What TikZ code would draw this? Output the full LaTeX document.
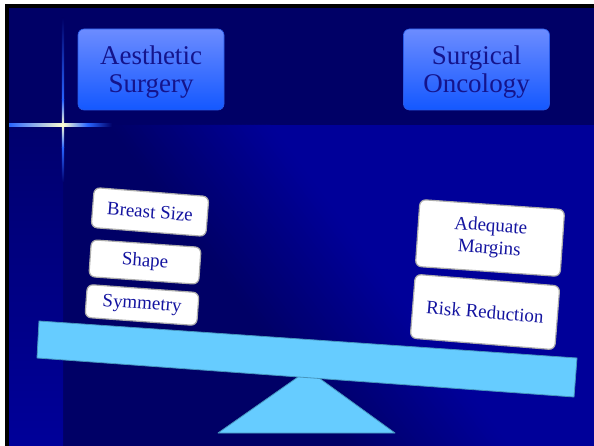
\documentclass[tikz,border=0pt]{standalone}
\usepackage{fontspec}
\setmainfont{Liberation Serif}
\definecolor{topband}{RGB}{0,0,102}
\definecolor{lowlight}{RGB}{0,0,153}
\definecolor{lowdark}{RGB}{0,0,102}
\definecolor{btntop}{RGB}{108,140,255}
\definecolor{btnbot}{RGB}{20,88,255}
\definecolor{btnedge}{RGB}{40,90,230}
\definecolor{btntext}{RGB}{20,20,140}
\definecolor{boxtext}{RGB}{20,20,160}
\definecolor{plank}{RGB}{102,204,255}
\definecolor{plankedge}{RGB}{70,150,190}
\definecolor{sparkblue}{RGB}{40,100,255}
\definecolor{sparkwhite}{RGB}{255,255,210}
\tikzset{
  topbtn/.style={rectangle, rounded corners=6pt, top color=btntop, bottom color=btnbot,
    draw=btnedge, line width=0.6pt, minimum width=146pt, minimum height=81pt, inner sep=0pt},
  btntxt/.style={align=center, text=btntext, inner sep=0pt, font=\fontsize{27}{28}\selectfont},
  itembox/.style={rectangle, rounded corners=6pt, fill=white, draw=gray!65, line width=1.2pt,
    align=center, text=boxtext, inner sep=0pt, font=\fontsize{19}{22}\selectfont},
  seesaw/.style={fill=plank, draw=plankedge, line width=0.8pt, line join=round}
}
\begin{document}
\begin{tikzpicture}[x=1pt,y=-1pt]
\useasboundingbox (0,0) rectangle (594,446);
% frame
\fill[white] (0,0) rectangle (594,446);
\fill[black] (5,4) rectangle (594,446);
% top band
\fill[topband] (9,8) rectangle (594,125);
% lower region
\begin{scope}
  \clip (63,125) rectangle (594,446);
  \fill[lowlight] (63,125) rectangle (594,446);
  \fill[lowdark] (63,125) -- (110.5,125) -- (348.5,446) -- (63,446) -- cycle;
  \foreach \i in {0,...,39}{
    \pgfmathsetmacro{\xa}{110+4*\i}
    \pgfmathsetmacro{\xb}{\xa+4.6}
    \pgfmathsetmacro{\p}{100*(\i+0.5)/40}
    \fill[lowlight!\p!lowdark] (\xa,125) -- (\xb,125) -- (\xb+238,446) -- (\xa+238,446) -- cycle;
  }
\end{scope}
\shade[top color=lowdark!85!lowlight, bottom color=lowlight] (9,125) rectangle (63,446);
% sparkle
\shade[left color=sparkblue, right color=sparkwhite] (9,123.8) rectangle (63,126.2);
\shade[left color=sparkwhite, right color=topband, middle color=sparkblue] (63,123.8) rectangle (112,126.2);
\shade[top color=topband, bottom color=sparkblue] (61.8,18) rectangle (64.2,100);
\shade[top color=sparkblue, bottom color=sparkwhite] (61.8,100) rectangle (64.2,125);
\shade[top color=sparkwhite, bottom color=sparkblue] (61.8,125) rectangle (64.2,148);
\shade[top color=sparkblue, bottom color=lowdark!85!lowlight] (61.8,148) rectangle (64.2,182);
\fill[sparkwhite] (63,125) circle (1.8pt);
% top buttons
\node[topbtn] (aes) at (151,69.5) {};
\node[btntxt] (aestxt) at (151,72) {Aesthetic\\Surgery};
\node[topbtn] (onc) at (476.5,69.5) {};
\node[btntxt] (onctxt) at (476.5,72) {Surgical\\Oncology};
% seesaw
\draw[seesaw] (308,370) -- (395,433) -- (218,433) -- cycle;
\draw[seesaw] (39,321) -- (577,358) -- (574,397) -- (37,358) -- cycle;
% left items
\node[itembox, rotate=-4.5, minimum width=115pt, minimum height=40pt] (size) at (150,212) {Breast Size};
\node[itembox, rotate=-4.0, minimum width=110pt, minimum height=37pt] (shape) at (145,262) {Shape};
\node[itembox, rotate=-4.2, minimum width=112pt, minimum height=33pt] (sym) at (142,305) {Symmetry};
% right items
\node[itembox, rotate=-4.0, minimum width=145pt, minimum height=67pt] (margins) at (490,238) {Adequate\\Margins};
\node[itembox, rotate=-4.6, minimum width=145pt, minimum height=64pt] (risk) at (485,312) {Risk Reduction};
\end{tikzpicture}
\end{document}
